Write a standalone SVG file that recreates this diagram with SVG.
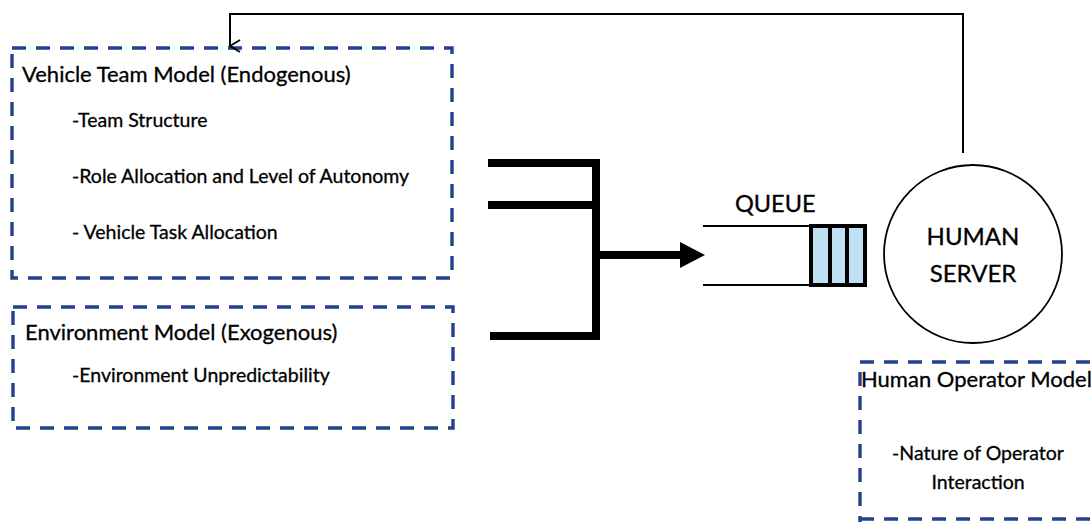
<svg xmlns="http://www.w3.org/2000/svg" width="1091" height="522" viewBox="0 0 1091 522">
<defs>
<style>
.dash{fill:none;stroke:#22418f;stroke-width:3.4;stroke-dasharray:14 10}
.t{font-family:Lato,"Open Sans",sans-serif;fill:#000;stroke:#000;stroke-width:0.3}
.h{font-size:22px}
.s{font-size:19.5px}
.thick{fill:none;stroke:#000;stroke-width:8}
.thin{fill:none;stroke:#000;stroke-width:2}
</style>
<marker id="open" markerWidth="14" markerHeight="14" refX="7" refY="12" orient="auto" markerUnits="userSpaceOnUse" viewBox="0 0 14 14">
<path d="M1,2 L7,12 L13,2" fill="none" stroke="#000" stroke-width="1.8"/>
</marker>
</defs>
<rect width="1091" height="522" fill="#fff"/>
<g id="vehicle-team">
<rect class="dash" x="12" y="48" width="440" height="230"/>
<text class="t h" x="22" y="82">Vehicle Team Model (Endogenous)</text>
<text class="t s" x="72" y="127">-Team Structure</text>
<text class="t s" x="72" y="183">-Role Allocation and Level of Autonomy</text>
<text class="t s" x="72" y="239">- Vehicle Task Allocation</text>
</g>
<g id="environment">
<rect class="dash" x="13" y="307" width="440" height="121"/>
<text class="t h" x="25" y="340">Environment Model (Exogenous)</text>
<text class="t s" x="72" y="382">-Environment Unpredictability</text>
</g>
<g id="queue">
<text class="t" x="735" y="212" font-size="23.5">QUEUE</text>
<line class="thin" x1="703" y1="226" x2="812" y2="226" stroke-width="3"/>
<line class="thin" x1="703" y1="285" x2="812" y2="285" stroke-width="3"/>
<rect x="809" y="224" width="58" height="63" fill="#000"/>
<rect x="813" y="228" width="15" height="55" fill="#bfe0f2"/>
<rect x="832" y="228" width="13" height="55" fill="#bfe0f2"/>
<rect x="849" y="228" width="14" height="55" fill="#bfe0f2"/>
</g>
<g id="human-server">
<circle cx="973" cy="254" r="89" fill="none" stroke="#000" stroke-width="1.8"/>
<text class="t" x="973" y="245" text-anchor="middle" font-size="24">HUMAN</text>
<text class="t" x="973" y="282" text-anchor="middle" font-size="24">SERVER</text>
</g>
<g id="human-operator">
<path class="dash" d="M860,362 L1100,362 M860,372 L860,522 M860,519 L1100,519"/>
<text class="t h" x="861" y="387">Human Operator Model</text>
<text class="t s" x="978" y="460" text-anchor="middle">-Nature of Operator</text>
<text class="t s" x="978" y="489" text-anchor="middle">Interaction</text>
</g>
<g id="connectors">
<path class="thin" d="M963,153 L963,14 L230,14 L230,46" marker-end="url(#open)"/>
<path class="thick" d="M488,163 L596,163 M488,205 L596,205 M490,336 L596,336 M596,159 L596,340"/>
<path class="thick" d="M596,255 L682,255"/>
<polygon points="680,242 705,255 680,268" fill="#000"/>
</g>
</svg>
